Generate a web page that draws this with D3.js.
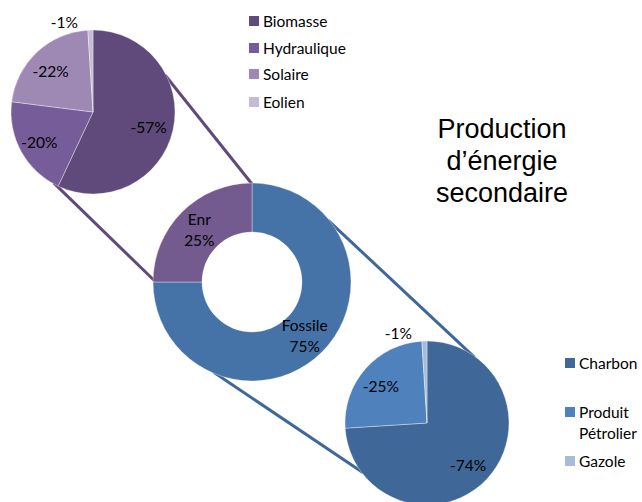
<!DOCTYPE html>
<html><head><meta charset="utf-8">
<script src="https://cdn.jsdelivr.net/npm/d3@7"></script>
<style>body{margin:0;background:#fff}svg{display:block}</style>
</head><body>
<script>
// ---- data ----
const topCategories = ["Biomasse", "Hydraulique", "Solaire", "Eolien"];
const topValues = [-57, -20, -22, -1];
const donutCategories = ["Fossile", "Enr"];
const donutValues = [75, 25];
const bottomCategories = ["Charbon", "Produit Pétrolier", "Gazole"];
const bottomValues = [-74, -25, -1];
const titleLines = ["Production", "d’énergie", "secondaire"];

// ---- styles ----
const topColors = ["#604A7B", "#765C98", "#9D89B4", "#C6BBD6"];
const donutColors = ["#4673A7", "#735A8F"];
const bottomColors = ["#3F6899", "#4F81BD", "#A9BBDB"];
const labelFont = "Lato, 'Liberation Sans', sans-serif";
const fs = 15.5;

const W = 642, H = 502;
const svg = d3.select("body").append("svg").attr("width", W).attr("height", H);

const topPie = {cx: 93, cy: 112, r: 82};
const donut = {cx: 252, cy: 282, r: 99, ir: 50};
const botPie = {cx: 427, cy: 423, r: 82};

const pie = d3.pie().sort(null).value(d => Math.abs(d));
const deg = Math.PI / 180;
function pt(c, a, r) { return [c.cx + r * Math.sin(a * deg), c.cy - r * Math.cos(a * deg)]; }

// connector lines (behind pies)
const connectors = [
  {a: [topPie, 63], b: [donut, 0], color: "#604A7B"},
  {a: [topPie, 209], b: [donut, 271], color: "#604A7B"},
  {a: [donut, 51], b: [botPie, 36], color: "#3F6899"},
  {a: [donut, 203], b: [botPie, 232], color: "#3F6899"}
];
connectors.forEach(c => {
  const p1 = pt(c.a[0], c.a[1], c.a[0].r - 1), p2 = pt(c.b[0], c.b[1], c.b[0].r - 1);
  svg.append("line").attr("x1", p1[0]).attr("y1", p1[1]).attr("x2", p2[0]).attr("y2", p2[1])
    .attr("stroke", c.color).attr("stroke-width", 3);
});

function drawPie(c, values, colors, inner) {
  const g = svg.append("g").attr("transform", `translate(${c.cx},${c.cy})`);
  const arcs = pie(values);
  const arc = d3.arc().innerRadius(inner || 0).outerRadius(c.r);
  g.selectAll("path").data(arcs).join("path")
    .attr("d", arc).attr("fill", (d, i) => colors[i])
    .attr("stroke", "rgba(255,255,255,0.45)").attr("stroke-width", 0.8);
  return {g, arcs};
}

function pieLabels(c, res) {
  const lab = d3.arc().innerRadius(c.r * 0.72).outerRadius(c.r * 0.72);
  res.arcs.forEach((d, i) => {
    const v = d.data;
    const txt = v + "%";
    if (Math.abs(v) < 3) {
      res.g.append("text").attr("x", -15).attr("y", -c.r - 8)
        .attr("text-anchor", "end").attr("dominant-baseline", "central")
        .attr("font-family", labelFont).attr("font-size", fs).attr("fill", "#000").text(txt);
    } else {
      const [x, y] = lab.centroid(d);
      res.g.append("text").attr("x", x - 2).attr("y", y + 2)
        .attr("text-anchor", "middle").attr("dominant-baseline", "central")
        .attr("font-family", labelFont).attr("font-size", fs).attr("fill", "#000").text(txt);
    }
  });
}

const tp = drawPie(topPie, topValues, topColors);
pieLabels(topPie, tp);
const bp = drawPie(botPie, bottomValues, bottomColors);
pieLabels(botPie, bp);

const dn = drawPie(donut, donutValues, donutColors, donut.ir);
const dlab = d3.arc().innerRadius((donut.r + donut.ir) / 2).outerRadius((donut.r + donut.ir) / 2);
dn.arcs.forEach((d, i) => {
  const [x, y] = dlab.centroid(d);
  const t = dn.g.append("text").attr("text-anchor", "middle")
    .attr("font-family", labelFont).attr("font-size", fs).attr("fill", "#000");
  t.append("tspan").attr("x", x).attr("y", y - 10).attr("dominant-baseline", "central").text(donutCategories[i]);
  t.append("tspan").attr("x", x).attr("y", y + 11).attr("dominant-baseline", "central").text(d.data + "%");
});

// legends
function legend(x, ys, cats, colors) {
  cats.forEach((name, i) => {
    const lines = name === "Produit Pétrolier" ? ["Produit", "Pétrolier"] : [name];
    svg.append("rect").attr("x", x).attr("y", ys[i] - 5).attr("width", 10).attr("height", 10).attr("fill", colors[i]);
    lines.forEach((ln, j) => {
      svg.append("text").attr("x", x + 14).attr("y", ys[i] + j * 21).attr("dominant-baseline", "central")
        .attr("font-family", labelFont).attr("font-size", fs).attr("fill", "#000").text(ln);
    });
  });
}
legend(249, [21, 48, 74, 102], topCategories, topColors);
legend(565, [363, 412, 461], bottomCategories, bottomColors);

// title
titleLines.forEach((t, i) => {
  svg.append("text").attr("x", 502).attr("y", 138 + i * 32).attr("text-anchor", "middle")
    .attr("font-family", "'Liberation Sans', Arial, sans-serif").attr("font-size", 27).attr("fill", "#000").text(t);
});
</script>
</body></html>
